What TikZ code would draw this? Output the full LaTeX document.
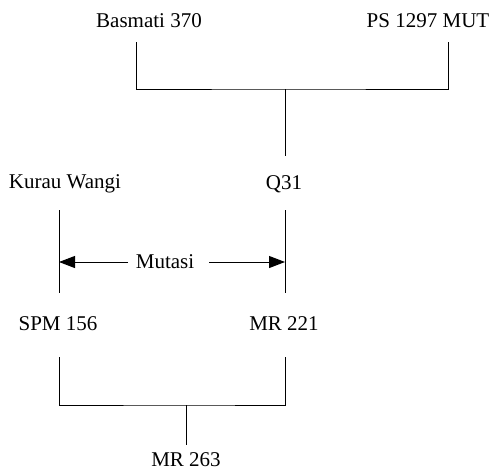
\documentclass[tikz,border=0pt]{standalone}
\usepackage{fontspec}
\setmainfont{Liberation Serif}
\usetikzlibrary{arrows.meta}
\begin{document}
\begin{tikzpicture}[x=1pt,y=-1pt,
  lbl/.style={font=\fontsize{21}{25}\selectfont, inner sep=0pt, anchor=center},
  ln/.style={line width=1pt},
  arr/.style={line width=1pt, -{Triangle[length=16pt,width=12pt]}}]
\useasboundingbox (0,0) rectangle (497,471);
% labels
\node[lbl] (bas) at (149,21) {Basmati 370};
\node[lbl] (ps) at (428,21) {PS 1297 MUT};
\node[lbl] (kw) at (65,184) {Kurau Wangi};
\node[lbl] (q31) at (284,184) {Q31};
\node[lbl] (mut) at (165,262) {Mutasi};
\node[lbl] (spm) at (58,324) {SPM 156};
\node[lbl] (mr221) at (284,324) {MR 221};
\node[lbl] (mr263) at (186,460) {MR 263};
% coordinates
\coordinate (basb) at (136,42);
\coordinate (psb) at (448,42);
\coordinate (j1) at (285,89);
\coordinate (q31t) at (285,156);
\coordinate (kwb) at (59,210);
\coordinate (kwe) at (59,293);
\coordinate (q31b) at (285,210);
\coordinate (q31e) at (285,293);
\coordinate (la) at (128,262);
\coordinate (ra) at (209,262);
\coordinate (lt) at (59,262);
\coordinate (rt) at (285,262);
\coordinate (spmb) at (59,357);
\coordinate (mrb) at (285,357);
\coordinate (j2) at (186,405);
\coordinate (mr263t) at (186,445);
% cross 1
\draw[ln] (basb) |- (j1) -| (psb);
\draw[ln] (j1) -- (q31t);
% mutation
\draw[ln] (kwb) -- (kwe);
\draw[ln] (q31b) -- (q31e);
\draw[arr] (la) -- (lt);
\draw[arr] (ra) -- (rt);
% cross 2
\draw[ln] (spmb) |- (j2) -| (mrb);
\draw[ln] (j2) -- (mr263t);
\end{tikzpicture}
\end{document}
